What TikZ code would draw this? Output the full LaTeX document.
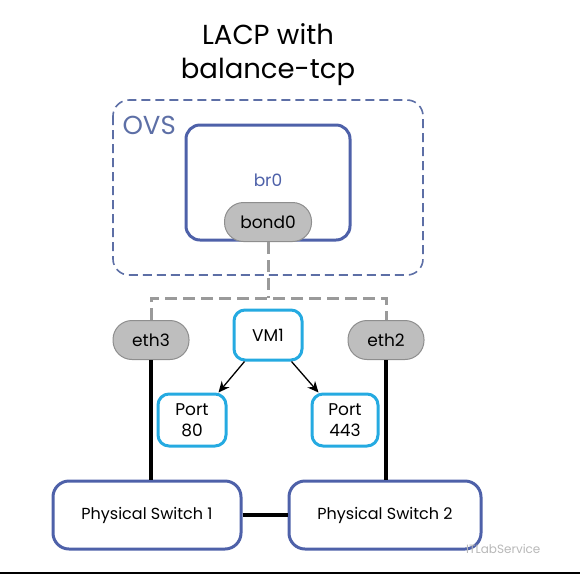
\documentclass[tikz,border=0pt]{standalone}
\usepackage{fontspec}
\setmainfont{Poppins}
\usetikzlibrary{arrows.meta}
\definecolor{blu}{HTML}{4E61A9}
\definecolor{ovsc}{HTML}{5D6FA6}
\definecolor{cyn}{HTML}{25AAE1}
\definecolor{pillf}{HTML}{BEBEBE}
\definecolor{pilld}{HTML}{8E8E8E}
\definecolor{gdc}{HTML}{9A9A9A}
\tikzset{
  blubox/.style={draw=blu, line width=3pt, rounded corners=14pt, fill=white, inner sep=0pt},
  cyanbox/.style={draw=cyn, line width=3pt, rounded corners=11pt, fill=white, inner sep=0pt, align=center, font=\fontsize{17}{21}\selectfont},
  pill/.style={fill=pillf, draw=pilld, line width=1pt, rounded corners=19pt, inner sep=0pt, minimum height=39pt, font=\fontsize{17}{20}\selectfont},
  gdash/.style={draw=gdc, line width=3pt, dash pattern=on 12pt off 6pt},
  blk/.style={draw=black, line width=4pt},
  arr/.style={draw=black, line width=1.3pt, -{Stealth[length=11pt,width=10pt]}},
  swbox/.style={draw=blu, line width=3pt, rounded corners=16pt, fill=white, minimum width=188pt, minimum height=68pt, inner sep=0pt, font=\fontsize{16}{20}\selectfont}
}
\begin{document}
\begin{tikzpicture}[x=1pt,y=-1pt]
\useasboundingbox (0,0) rectangle (580,574);
% title
\node[font=\fontsize{27.5}{34}\selectfont, align=center] (title) at (268,55) {LACP with\\balance-tcp};
% OVS dashed box
\draw[draw=ovsc, line width=1.6pt, dash pattern=on 9pt off 5pt, rounded corners=16pt] (113,100) rectangle (423,275);
\node[anchor=west, text=ovsc, font=\fontsize{26}{28}\selectfont] (ovs) at (119,125) {OVS};
% br0
\node[blubox, minimum width=164pt, minimum height=115pt] (br0box) at (268,182.5) {};
\node[text=blu, font=\fontsize{17}{20}\selectfont] (br0) at (268,180) {br0};
\node[pill, minimum width=87pt] (bond0) at (268,222) {bond0};
% ports
\node[pill, minimum width=76pt] (eth3) at (151,340) {eth3};
\node[pill, minimum width=76pt] (eth2) at (386,340) {eth2};
\coordinate (j) at (268,298);
\draw[gdash] (bond0.south) -- (j);
\draw[gdash] (eth3.north) -- (eth3.north |- j) -- (eth2.north |- j) -- (eth2.north);
% VM and ports
\node[cyanbox, minimum width=68pt, minimum height=50pt] (vm1) at (268,335) {VM1};
\node[cyanbox, minimum width=68pt, minimum height=52pt] (p80) at (192,420) {Port\\80};
\node[cyanbox, minimum width=66pt, minimum height=52pt] (p443) at (345,420) {Port\\443};
\path (vm1.south west) ++(12,0) coordinate (a1);
\path (p80.north east) ++(-9,0) coordinate (b1);
\path (vm1.south east) ++(-12,0) coordinate (a2);
\path (p443.north west) ++(8,0) coordinate (b2);
\draw[arr] (a1) -- (b1);
\draw[arr] (a2) -- (b2);
% switches
\node[swbox] (ps1) at (147,515) {Physical Switch 1};
\node[swbox, minimum width=192pt] (ps2) at (385,515) {Physical Switch 2};
\draw[blk] (eth3.south) -- (eth3.south |- ps1.north);
\draw[blk] (eth2.south) -- (eth2.south |- ps2.north);
\draw[blk] (ps1.east) -- (ps2.west);
% watermark
\node[anchor=west, text=black!28, font=\fontsize{12}{14}\selectfont, inner sep=0pt] (wm) at (466,549) {ITLabService};
% bottom rule
\draw[black, line width=2pt] (0,573) -- (580,573);
\end{tikzpicture}
\end{document}
